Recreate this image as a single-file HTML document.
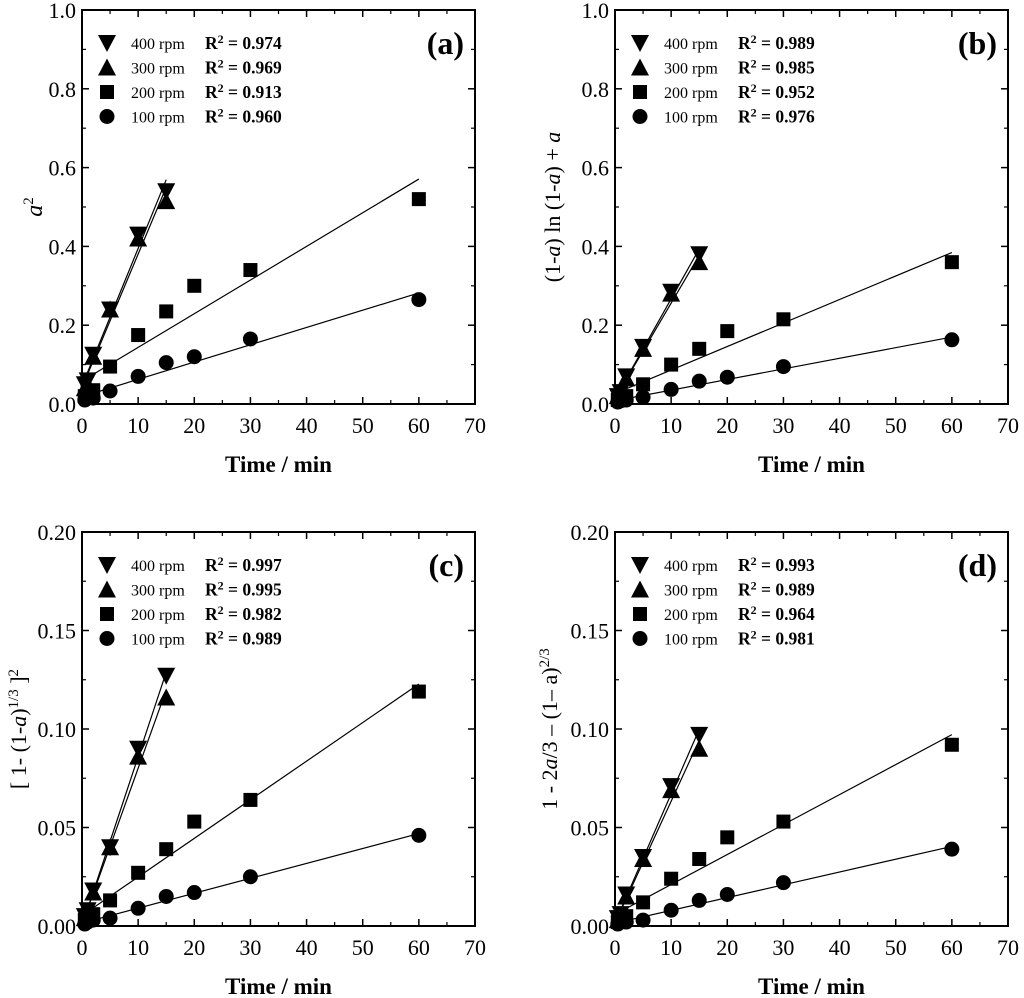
<!DOCTYPE html>
<html><head><meta charset="utf-8"><style>
body{margin:0;background:#fff}
svg{display:block;font-family:"Liberation Serif",serif}
</style></head><body>
<svg id="s" width="1024" height="998"></svg>
<script>
const times=[0.5,1,2,5,10,15,20,30,60];
const speeds=['400 rpm','300 rpm','200 rpm','100 rpm'];
const panelLabels=['(a)','(b)','(c)','(d)'];
const yMaxes=[1.0,1.0,0.2,0.2];
const yTicksAB=['0.0','0.2','0.4','0.6','0.8','1.0'];
const yTicksCD=['0.00','0.05','0.10','0.15','0.20'];
const xTicks=[0,10,20,30,40,50,60,70];
const r2a=['0.974','0.969','0.913','0.960'];
const r2b=['0.989','0.985','0.952','0.976'];
const r2c=['0.997','0.995','0.982','0.989'];
const r2d=['0.993','0.989','0.964','0.981'];
const a400=[0.05,0.06,0.125,0.24,0.43,0.54];
const a300=[0.04,0.05,0.12,0.24,0.42,0.515];
const a200=[0.02,0.03,0.035,0.095,0.175,0.235,0.3,0.34,0.52];
const a100=[0.01,0.015,0.015,0.033,0.07,0.105,0.12,0.165,0.265];
const b400=[0.02,0.03,0.07,0.145,0.285,0.38];
const b300=[0.02,0.03,0.065,0.14,0.28,0.36];
const b200=[0.01,0.015,0.02,0.05,0.1,0.14,0.185,0.215,0.36];
const b100=[0.005,0.008,0.01,0.017,0.037,0.058,0.068,0.095,0.163];
const c400=[0.005,0.008,0.018,0.040,0.090,0.127];
const c300=[0.004,0.007,0.017,0.040,0.086,0.116];
const c200=[0.003,0.005,0.006,0.013,0.027,0.039,0.053,0.064,0.119];
const c100=[0.001,0.002,0.003,0.004,0.009,0.015,0.017,0.025,0.046];
const d400=[0.004,0.006,0.016,0.035,0.071,0.097];
const d300=[0.003,0.005,0.015,0.034,0.069,0.090];
const d200=[0.002,0.004,0.005,0.012,0.024,0.034,0.045,0.053,0.092];
const d100=[0.001,0.002,0.002,0.003,0.008,0.013,0.016,0.022,0.039];

const S=document.getElementById('s');
const NS='http://www.w3.org/2000/svg';
function mk(t,a,p){const e=document.createElementNS(NS,t);for(const k in a)e.setAttribute(k,a[k]);(p||S).appendChild(e);return e;}

const panels=[
 {ox:0,oy:0,ser:[a400,a300,a200,a100],r2:r2a,ticks:yTicksAB,yo:40},
 {ox:533,oy:0,ser:[b400,b300,b200,b100],r2:r2b,ticks:yTicksAB,yo:55},
 {ox:0,oy:522,ser:[c400,c300,c200,c100],r2:r2c,ticks:yTicksCD,yo:56},
 {ox:533,oy:522,ser:[d400,d300,d200,d100],r2:r2d,ticks:yTicksCD,yo:58}];

function marker(g,k,x,y){
 let e;
 if(k===0)e=mk('polygon',{points:`${x-9},${y-8} ${x+9},${y-8} ${x},${y+9}`,fill:'#000'},g);
 else if(k===1)e=mk('polygon',{points:`${x-9},${y+8} ${x+9},${y+8} ${x},${y-9}`,fill:'#000'},g);
 else if(k===2)e=mk('rect',{x:x-7,y:y-7,width:14,height:14,fill:'#000'},g);
 else e=mk('circle',{cx:x,cy:y,r:7.5,fill:'#000'},g);
 return e;
}

panels.forEach((P,i)=>{
 const L=82+P.ox,R=475+P.ox,T=10+P.oy,B=404+P.oy;
 const ymax=yMaxes[i];
 const xs=v=>L+(R-L)*v/70, ys=v=>B-(B-T)*v/ymax;
 const g=mk('g',{});
 
 
 mk('rect',{x:L,y:T,width:R-L,height:B-T,fill:'none',stroke:'#000','stroke-width':2},g);
 xTicks.forEach(t=>{
  const x=xs(t);
  mk('line',{x1:x,y1:B,x2:x,y2:B-7,stroke:'#000','stroke-width':1.5},g);
  mk('line',{x1:x,y1:T,x2:x,y2:T+7,stroke:'#000','stroke-width':1.5},g);
  if(t<70){const xm=xs(t+5);
   mk('line',{x1:xm,y1:B,x2:xm,y2:B-4,stroke:'#000','stroke-width':1.2},g);
   mk('line',{x1:xm,y1:T,x2:xm,y2:T+4,stroke:'#000','stroke-width':1.2},g);}
  const tx=mk('text',{x:x,y:B+29,'font-size':22,'text-anchor':'middle'},g);tx.textContent=t;
  
  
 });
 const n=P.ticks.length;
 P.ticks.forEach((lab,j)=>{
  const v=ymax*j/(n-1), y=ys(v);
  mk('line',{x1:L,y1:y,x2:L+7,y2:y,stroke:'#000','stroke-width':1.5},g);
  mk('line',{x1:R,y1:y,x2:R-7,y2:y,stroke:'#000','stroke-width':1.5},g);
  if(j<n-1){const ym=ys(v+ymax/(n-1)/2);
   mk('line',{x1:L,y1:ym,x2:L+4,y2:ym,stroke:'#000','stroke-width':1.2},g);
   mk('line',{x1:R,y1:ym,x2:R-4,y2:ym,stroke:'#000','stroke-width':1.2},g);}
  const tx=mk('text',{x:L-6,y:y+8,'font-size':22,'text-anchor':'end'},g);tx.textContent=lab;
  
  
 });
 const xt=mk('text',{x:(L+R)/2,y:B+68,'font-size':23,'font-weight':'bold','text-anchor':'middle'},g);
 xt.textContent='Time / min';
 
 
 const yt=mk('text',{transform:`translate(${L-P.yo},${(T+B)/2}) rotate(-90)`,'font-size':22,'text-anchor':'middle'},g);
 
 
 if(i===0) yt.innerHTML='<tspan font-style="italic" font-size="24">a</tspan><tspan dy="-9" font-size="15">2</tspan>';
 else if(i===1) yt.innerHTML='(1-<tspan font-style="italic">a</tspan>) ln (1-<tspan font-style="italic">a</tspan>) + <tspan font-style="italic">a</tspan>';
 else if(i===2) yt.innerHTML='[ 1- (1-<tspan font-style="italic">a</tspan>)<tspan dy="-8" font-size="15">1/3</tspan><tspan dy="8"> ]</tspan><tspan dy="-8" font-size="15">2</tspan>';
 else yt.innerHTML='1 - 2<tspan font-style="italic">a</tspan>/3 – (1– a)<tspan dy="-8" font-size="15">2/3</tspan>';
 const pl=mk('text',{x:R-11,y:T+44,'font-size':32,'font-weight':'bold','text-anchor':'end'},g);
 pl.textContent=panelLabels[i];
 
 
 P.ser.forEach((vals,k)=>{
  const tx=times.slice(0,vals.length);
  const m=tx.length, mx=tx.reduce((a,b)=>a+b)/m, my=vals.reduce((a,b)=>a+b)/m;
  let sxy=0,sxx=0;tx.forEach((t,q)=>{sxy+=(t-mx)*(vals[q]-my);sxx+=(t-mx)**2;});
  const sl=sxy/sxx, ic=my-sl*mx;
  const x0=0.5,x1=tx[m-1];
  const ln=mk('line',{x1:xs(x0),y1:ys(ic+sl*x0),x2:xs(x1),y2:ys(ic+sl*x1),stroke:'#000','stroke-width':1.2},g);
  
  
  vals.forEach((v,q)=>{
   const e=marker(g,k,xs(tx[q]),ys(v));
   
   
  });
  const ly=T+33+k*24.5;
  const lm=marker(g,k,L+25,ly);
  
  
  const lt=mk('text',{x:L+49,y:ly+6,'font-size':16},g);lt.textContent=speeds[k];
  
  
  const lr=mk('text',{x:L+123,y:ly+6,'font-size':17.5,'font-weight':'bold'},g);
  lr.innerHTML='R<tspan dy="-6" font-size="12">2</tspan><tspan dy="6"> = '+P.r2[k]+'</tspan>';
  
  
 });
});
</script>
</body></html>
